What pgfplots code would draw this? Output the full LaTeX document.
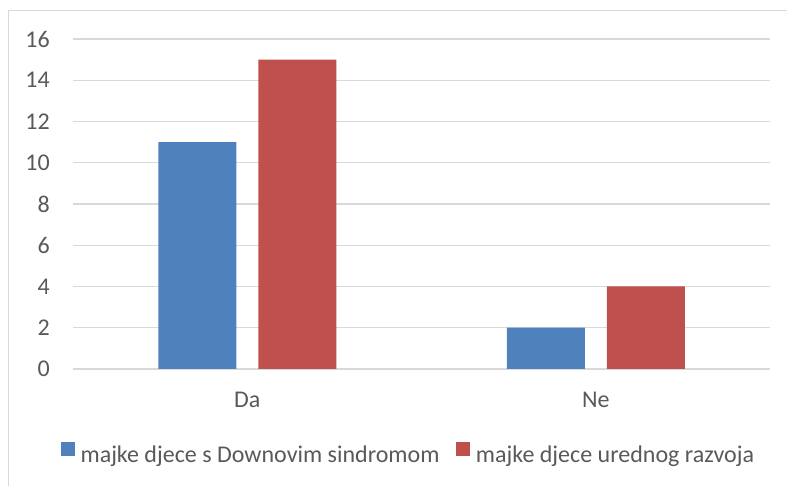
\documentclass[border=0pt]{standalone}
\usepackage{pgfplots}
\pgfplotsset{compat=1.18}
\usepackage{fontspec}
\setmainfont{Carlito}
\definecolor{bblue}{HTML}{4F81BD}
\definecolor{rred}{HTML}{C0504D}
\definecolor{txt}{HTML}{595959}
\definecolor{grd}{HTML}{D9D9D9}
\begin{document}
\begin{tikzpicture}[x=1pt,y=1pt]
\useasboundingbox (0,0) rectangle (787,486);
\draw[grd, line width=1.2pt] (8.5,-2) -- (8.5,475.5) -- (790,475.5);
\begin{axis}[
  at={(73pt,117pt)}, anchor=south west,
  scale only axis, width=697pt, height=330pt,
  xmin=-0.5, xmax=1.5, ymin=0, ymax=16,
  xtick={0,1}, xticklabels={Da,Ne},
  ytick={0,2,...,16},
  /pgf/number format/assume math mode=true,
  axis line style={draw=none},
  major tick length=0pt,
  ymajorgrids, grid style={grd, line width=1.2pt},
  ybar=22pt, bar width=78pt,
  tick label style={font=\fontsize{24}{28}\selectfont, text=txt},
  yticklabel style={anchor=east, inner sep=0pt, xshift=-23pt},
  xticklabel style={anchor=base, inner sep=0pt, yshift=-39pt},
  legend image code/.code={\fill[#1] (0pt,-1pt) rectangle (14pt,13pt);},
  legend columns=2,
  legend style={draw=none, fill=none, at={(axis description cs:0.48,-0.255)}, anchor=center,
    font=\fontsize{24}{28}\selectfont, text=txt,
    nodes={inner sep=0pt},
    /tikz/every odd column/.append style={column sep=5.5pt},
    /tikz/every even column/.append style={column sep=17pt}},
]
\addplot[fill=bblue, draw=none] coordinates {(0,11) (1,2)};
\addplot[fill=rred, draw=none] coordinates {(0,15) (1,4)};
\legend{majke djece s Downovim sindromom, majke djece urednog razvoja}
\end{axis}
\end{tikzpicture}
\end{document}
